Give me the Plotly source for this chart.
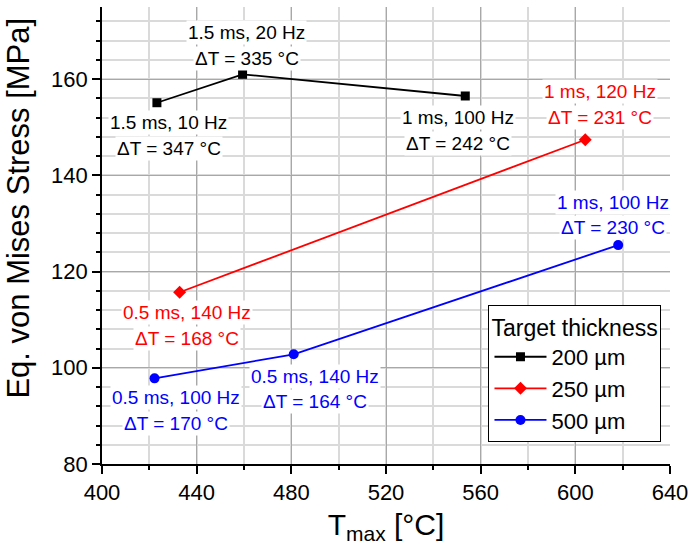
import plotly.graph_objects as go

# Maximum temperature [°C] and equivalent von Mises stress [MPa] per target thickness
tmax_200 = [423.2, 459.4, 553.5]
stress_200 = [155.1, 161.0, 156.5]
pulse_200 = ["1.5 ms, 10 Hz", "1.5 ms, 20 Hz", "1 ms, 100 Hz"]
dT_200 = [347, 335, 242]

tmax_250 = [432.8, 604.2]
stress_250 = [115.7, 147.4]
pulse_250 = ["0.5 ms, 140 Hz", "1 ms, 120 Hz"]
dT_250 = [168, 231]

tmax_500 = [422.2, 481.0, 618.1]
stress_500 = [97.8, 102.8, 125.5]
pulse_500 = ["0.5 ms, 100 Hz", "0.5 ms, 140 Hz", "1 ms, 100 Hz"]
dT_500 = [170, 164, 230]

x_ticks = [400, 440, 480, 520, 560, 600, 640]
y_ticks = [80, 100, 120, 140, 160]

FONT = "Arial, Liberation Sans, sans-serif"

# (xshift, yshift of first line, yshift of second line) in px for each point label
offsets_200 = [(12, -20, -46), (4, 42, 16), (-7, -22, -48)]
offsets_250 = [(7, -20, -46), (15, 48, 22)]
offsets_500 = [(21, -19, -45), (21, -22, -47), (-5, 43, 18)]

series = [
    ("200 µm", "#000000", "square", 9, tmax_200, stress_200, pulse_200, dT_200, offsets_200),
    ("250 µm", "#ff0000", "diamond", 10, tmax_250, stress_250, pulse_250, dT_250, offsets_250),
    ("500 µm", "#0000ff", "circle", 10, tmax_500, stress_500, pulse_500, dT_500, offsets_500),
]

fig = go.Figure()
annotations = []
for name, color, symbol, size, xs, ys, pulses, dts, offs in series:
    fig.add_trace(go.Scatter(
        x=xs, y=ys, mode="lines+markers", name=name,
        line=dict(color=color, width=1.8),
        marker=dict(symbol=symbol, size=size, color=color),
    ))
    for x, y, p, d, (dx, dy1, dy2) in zip(xs, ys, pulses, dts, offs):
        for text, dy in ((p, dy1), (f"ΔT = {d} °C", dy2)):
            annotations.append(dict(
                x=x, y=y, xref="x", yref="y", text=text, showarrow=False,
                xshift=dx, yshift=dy, bgcolor="white", borderpad=1,
                font=dict(family=FONT, size=19, color=color),
            ))

annotations.append(dict(
    text="Eq. von Mises Stress [MPa]", xref="paper", yref="paper",
    x=-0.147, y=0.56, xanchor="center", yanchor="middle", textangle=-90,
    showarrow=False, font=dict(family=FONT, size=31, color="black"),
))

axis_common = dict(
    showline=True, linecolor="black", linewidth=1.8,
    ticks="outside", tickcolor="black", tickwidth=1.5, ticklen=8,
    showgrid=True, gridcolor="#a8a8a8", gridwidth=1,
    tickfont=dict(family=FONT, size=22, color="black"),
    zeroline=False, automargin=False,
)

fig.update_xaxes(
    range=[400, 640], tickvals=x_ticks, ticktext=[str(v) for v in x_ticks],
    minor=dict(dtick=20, tick0=400, ticks="outside", ticklen=4, tickcolor="black",
               showgrid=True, gridcolor="#dadada", gridwidth=1.5),
    title=dict(text="T<sub>max</sub> [°C]", font=dict(family=FONT, size=30, color="black"), standoff=16),
    **axis_common,
)
fig.update_yaxes(
    range=[80, 175], tickvals=y_ticks, ticktext=[str(v) for v in y_ticks],
    minor=dict(dtick=4, tick0=80, ticks="outside", ticklen=4, tickcolor="black",
               showgrid=True, gridcolor="#dadada", gridwidth=1.5),
    **axis_common,
)

fig.update_layout(
    width=691, height=545,
    margin=dict(l=102, r=21, t=7, b=81),
    paper_bgcolor="white", plot_bgcolor="white",
    font=dict(family=FONT, color="black"),
    annotations=annotations,
    legend=dict(
        title=dict(text="Target thickness", font=dict(family=FONT, size=23, color="black")),
        font=dict(family=FONT, size=22, color="black"),
        x=0.985, y=0.048, xanchor="right", yanchor="bottom",
        bgcolor="white", bordercolor="black", borderwidth=1,
        itemwidth=52, tracegroupgap=0,
    ),
    showlegend=True,
)

fig.write_html("out.html")
